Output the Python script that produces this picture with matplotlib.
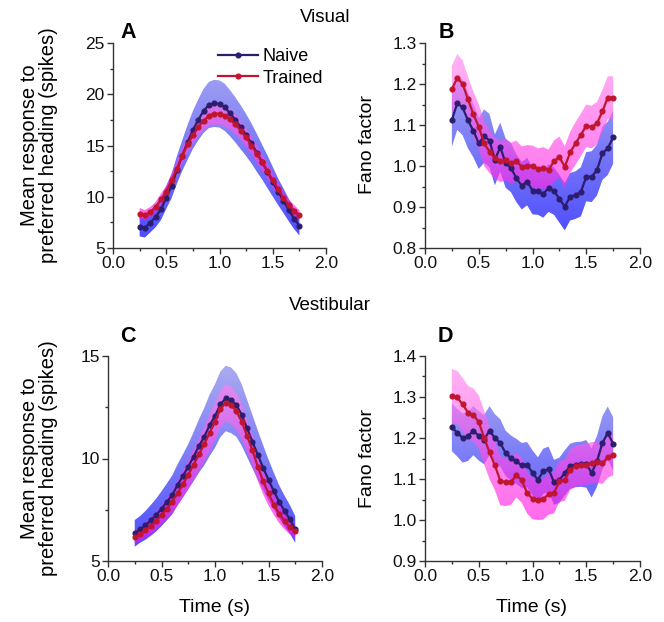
import numpy as np
import matplotlib
matplotlib.use("Agg")
import matplotlib.pyplot as plt
from matplotlib.patches import PathPatch
from matplotlib.ticker import MultipleLocator

plt.rcParams['font.family'] = ['Liberation Sans', 'DejaVu Sans']

# ---------------- data ----------------
time_s = [0.25, 0.30, 0.35, 0.40, 0.45, 0.50, 0.55, 0.60, 0.65, 0.70, 0.75,
          0.80, 0.85, 0.90, 0.95, 1.00, 1.05, 1.10, 1.15, 1.20, 1.25, 1.30,
          1.35, 1.40, 1.45, 1.50, 1.55, 1.60, 1.65, 1.70, 1.75]

# Panel A: visual, mean response
A_naive = [7.08, 6.98, 7.47, 8.02, 8.77, 9.91, 11.05, 12.61, 14.01, 15.31, 16.51,
           17.49, 18.37, 18.95, 19.11, 19.05, 18.72, 18.14, 17.49, 16.77, 16.02, 15.21,
           14.30, 13.39, 12.45, 11.47, 10.50, 9.62, 8.71, 7.86, 7.18]
A_naive_err = [0.95, 0.95, 0.95, 1.0, 1.05, 1.1, 1.2, 1.35, 1.5, 1.7, 1.85,
               2.0, 2.15, 2.25, 2.3, 2.3, 2.3, 2.25, 2.2, 2.15, 2.05, 1.95,
               1.85, 1.7, 1.6, 1.45, 1.3, 1.2, 1.1, 1.0, 0.95]
A_trained = [8.35, 8.20, 8.50, 9.00, 9.75, 10.50, 11.60, 12.75, 14.00, 15.10, 16.00,
             16.80, 17.40, 17.90, 18.10, 18.10, 17.90, 17.55, 17.05, 16.45, 15.80, 15.00,
             14.20, 13.35, 12.50, 11.60, 10.75, 9.90, 9.20, 8.65, 8.19]
A_trained_err = [0.55, 0.5, 0.5, 0.5, 0.55, 0.6, 0.65, 0.7, 0.75, 0.8, 0.85,
                 0.9, 0.95, 1.0, 1.05, 1.05, 1.05, 1.0, 0.95, 0.95, 0.9, 0.85,
                 0.85, 0.8, 0.75, 0.7, 0.65, 0.6, 0.55, 0.55, 0.5]

# Panel B: visual, Fano factor
B_naive = [1.112, 1.153, 1.143, 1.111, 1.086, 1.055, 1.073, 1.062, 1.015, 1.046, 1.007,
           0.996, 0.970, 0.952, 0.962, 0.940, 0.939, 0.932, 0.946, 0.939, 0.920, 0.901,
           0.925, 0.929, 0.937, 0.974, 0.974, 0.990, 1.031, 1.043, 1.070]
B_naive_err = [0.065, 0.065, 0.068, 0.068, 0.065, 0.062, 0.065, 0.065, 0.062, 0.06, 0.06,
               0.06, 0.058, 0.058, 0.058, 0.058, 0.058, 0.058, 0.058, 0.058, 0.058, 0.058,
               0.058, 0.058, 0.06, 0.06, 0.062, 0.062, 0.065, 0.065, 0.065]
B_trained = [1.187, 1.215, 1.200, 1.163, 1.126, 1.096, 1.055, 1.035, 1.019, 1.011, 1.015,
             1.007, 1.012, 0.998, 1.001, 1.000, 0.993, 0.996, 0.990, 1.012, 1.022, 0.998,
             1.033, 1.055, 1.076, 1.098, 1.095, 1.104, 1.133, 1.167, 1.167]
B_trained_err = [0.058, 0.058, 0.058, 0.055, 0.055, 0.055, 0.055, 0.052, 0.05, 0.05, 0.05,
                 0.05, 0.05, 0.05, 0.05, 0.05, 0.05, 0.05, 0.05, 0.05, 0.05, 0.05,
                 0.05, 0.052, 0.052, 0.052, 0.052, 0.052, 0.052, 0.052, 0.052]

# Panel C: vestibular, mean response
C_naive = [6.35, 6.54, 6.74, 6.98, 7.24, 7.55, 7.88, 8.22, 8.71, 9.15, 9.60,
           10.09, 10.61, 11.07, 11.62, 12.07, 12.64, 12.93, 12.84, 12.61, 12.12, 11.47,
           10.82, 10.17, 9.55, 8.95, 8.41, 7.89, 7.44, 7.03, 6.54]
C_naive_err = [0.65, 0.65, 0.7, 0.75, 0.8, 0.85, 0.9, 0.95, 1.0, 1.05, 1.1,
               1.2, 1.3, 1.4, 1.5, 1.55, 1.6, 1.6, 1.6, 1.55, 1.5, 1.4,
               1.3, 1.2, 1.1, 1.0, 0.9, 0.8, 0.75, 0.7, 0.65]
C_trained = [6.17, 6.30, 6.50, 6.70, 6.95, 7.25, 7.55, 7.90, 8.30, 8.75, 9.20,
             9.70, 10.20, 10.70, 11.25, 11.80, 12.40, 12.72, 12.60, 12.30, 11.80, 11.10,
             10.40, 9.60, 8.90, 8.30, 7.75, 7.30, 6.95, 6.65, 6.45]
C_trained_err = [0.3, 0.3, 0.35, 0.4, 0.4, 0.45, 0.5, 0.55, 0.6, 0.65, 0.7,
                 0.75, 0.8, 0.85, 0.9, 0.9, 0.9, 0.9, 0.9, 0.9, 0.85, 0.8,
                 0.75, 0.7, 0.65, 0.6, 0.5, 0.45, 0.4, 0.35, 0.3]

# Panel D: vestibular, Fano factor
D_naive = [1.226, 1.213, 1.200, 1.204, 1.218, 1.205, 1.196, 1.218, 1.200, 1.188, 1.163,
           1.151, 1.143, 1.133, 1.135, 1.115, 1.098, 1.119, 1.124, 1.092, 1.097, 1.115,
           1.131, 1.135, 1.136, 1.137, 1.115, 1.143, 1.188, 1.212, 1.186]
D_naive_err = [0.058, 0.058, 0.06, 0.06, 0.06, 0.06, 0.06, 0.06, 0.058, 0.058, 0.055,
               0.055, 0.055, 0.055, 0.055, 0.055, 0.055, 0.055, 0.055, 0.055, 0.055, 0.055,
               0.055, 0.055, 0.055, 0.058, 0.06, 0.062, 0.065, 0.065, 0.065]
D_trained = [1.303, 1.299, 1.282, 1.262, 1.256, 1.239, 1.201, 1.165, 1.133, 1.096, 1.092,
             1.092, 1.110, 1.097, 1.066, 1.052, 1.050, 1.051, 1.063, 1.066, 1.094, 1.097,
             1.123, 1.131, 1.134, 1.135, 1.140, 1.141, 1.138, 1.153, 1.159]
D_trained_err = [0.065, 0.065, 0.065, 0.065, 0.065, 0.065, 0.065, 0.065, 0.06, 0.06, 0.058,
                 0.055, 0.055, 0.055, 0.05, 0.05, 0.05, 0.05, 0.05, 0.05, 0.05, 0.05,
                 0.05, 0.05, 0.05, 0.05, 0.05, 0.05, 0.05, 0.05, 0.05]

series_labels = ["Naive", "Trained"]

# ---------------- style ----------------
NAIVE_LINE = "#2c1d6e"
TRAINED_LINE = "#c0152f"
NAIVE_TOP = np.array([175, 175, 240]) / 255
NAIVE_BOT = np.array([72, 72, 255]) / 255
TRAINED_TOP = np.array([255, 150, 240]) / 255
TRAINED_BOT = np.array([255, 0, 225]) / 255
AX_COL = "#333333"

W, H = 664, 622
fig = plt.figure(figsize=(W / 100, H / 100), dpi=100)


def px_axes(l, r, top, bottom):
    return fig.add_axes([l / W, 1 - bottom / H, (r - l) / W, (bottom - top) / H])


def grad_band(ax, x, mean, err, top_rgb, bot_rgb, alpha, z):
    x = np.asarray(x)
    m = np.asarray(mean)
    e = np.asarray(err)
    coll = ax.fill_between(x, m - e, m + e, facecolor='none', edgecolor='none')
    path = coll.get_paths()[0]
    patch = PathPatch(path, transform=ax.transData, facecolor='none', edgecolor='none')
    ax.add_patch(patch)
    y0, y1 = ax.get_ylim()
    x0, x1 = ax.get_xlim()
    n = 256
    g = np.linspace(0, 1, n)[:, None]
    rgb = bot_rgb[None, :] + (top_rgb - bot_rgb)[None, :] * g
    img = np.zeros((n, 2, 4))
    img[:, :, :3] = rgb[:, None, :]
    img[:, :, 3] = alpha
    im = ax.imshow(img, extent=[x0, x1, y0, y1], origin='lower', aspect='auto',
                   interpolation='bilinear', zorder=z)
    im.set_clip_path(patch)
    ax.set_xlim(x0, x1)
    ax.set_ylim(y0, y1)


def setup(ax, ylim, ymaj, ymin, yfmt):
    ax.set_xlim(0, 2.0)
    ax.set_ylim(*ylim)
    for s in ['top', 'right']:
        ax.spines[s].set_visible(False)
    for s in ['left', 'bottom']:
        ax.spines[s].set_color(AX_COL)
        ax.spines[s].set_linewidth(1.0)
    ax.xaxis.set_major_locator(MultipleLocator(0.5))
    ax.xaxis.set_minor_locator(MultipleLocator(0.25))
    ax.yaxis.set_major_locator(MultipleLocator(ymaj))
    ax.yaxis.set_minor_locator(MultipleLocator(ymin))
    ax.xaxis.set_major_formatter(plt.FormatStrFormatter('%.1f'))
    ax.yaxis.set_major_formatter(plt.FormatStrFormatter(yfmt))
    ax.tick_params(which='major', direction='out', length=4, width=1, color=AX_COL,
                   labelsize=12.5, pad=2, labelcolor='#111111')
    ax.tick_params(which='minor', direction='out', length=2.5, width=1, color=AX_COL)


def draw(ax, nm, ne, tm, te):
    grad_band(ax, time_s, nm, ne, NAIVE_TOP, NAIVE_BOT, 1.0, 1)
    grad_band(ax, time_s, tm, te, TRAINED_TOP, TRAINED_BOT, 0.66, 2)
    ax.plot(time_s, nm, color=NAIVE_LINE, lw=1.6, marker='o', ms=3.4, zorder=4,
            label=series_labels[0])
    ax.plot(time_s, tm, color=TRAINED_LINE, lw=1.6, marker='o', ms=3.4, zorder=5,
            label=series_labels[1])


axA = px_axes(113, 326, 43, 248)
axB = px_axes(425, 640, 43, 248)
axC = px_axes(108, 322, 356, 561)
axD = px_axes(425, 640, 356, 561)

setup(axA, (5, 25), 5, 2.5, '%d')
setup(axB, (0.8, 1.3), 0.1, 0.05, '%.1f')
setup(axC, (5, 15), 5, 2.5, '%d')
setup(axD, (0.9, 1.4), 0.1, 0.05, '%.1f')

draw(axA, A_naive, A_naive_err, A_trained, A_trained_err)
draw(axB, B_naive, B_naive_err, B_trained, B_trained_err)
draw(axC, C_naive, C_naive_err, C_trained, C_trained_err)
draw(axD, D_naive, D_naive_err, D_trained, D_trained_err)

leg = axA.legend(loc='upper left', bbox_to_anchor=(0.495, 0.975), frameon=False,
                 fontsize=13, handlelength=2.2, handletextpad=0.25, labelspacing=0.25,
                 borderaxespad=0, borderpad=0)

# texts
def ftext(x, y, s, **kw):
    fig.text(x / W, 1 - y / H, s, **kw)

ftext(325, 18, "Visual", fontsize=13.5, ha='center', va='center')
ftext(330, 305, "Vestibular", fontsize=13.5, ha='center', va='center')
for (x, y, s) in [(120, 33, "A"), (439, 33, "B"), (120, 336, "C"), (438, 337, "D")]:
    ftext(x, y, s, fontsize=15.5, fontweight='bold', ha='left', va='center')

ylab = "Mean response to\npreferred heading (spikes)"
ftext(39, 145, ylab, fontsize=14.5, rotation=90, ha='center', va='center',
      multialignment='center', linespacing=1.05)
ftext(39, 458, ylab, fontsize=14.5, rotation=90, ha='center', va='center',
      multialignment='center', linespacing=1.05)
ftext(367, 145, "Fano factor", fontsize=14, rotation=90, ha='center', va='center')
ftext(367, 458, "Fano factor", fontsize=14, rotation=90, ha='center', va='center')
ftext(215, 607, "Time (s)", fontsize=14, ha='center', va='center')
ftext(532, 607, "Time (s)", fontsize=14, ha='center', va='center')

fig.savefig("out.png", dpi=100)
